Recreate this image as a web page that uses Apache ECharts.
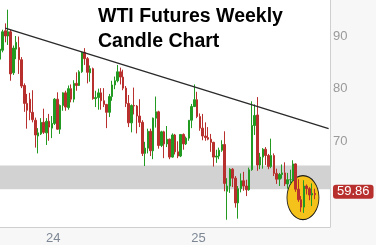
<!DOCTYPE html>
<html><head><meta charset="utf-8">
<script src="https://cdn.jsdelivr.net/npm/echarts@6/dist/echarts.min.js"></script>
<style>html,body{margin:0;padding:0;background:#f7f7f7}#c{width:376px;height:245px}</style>
</head><body><div id="c"></div>
<script>
// Weekly categories (week ending Friday)
const weeks = [
'2023-09-08','2023-09-15','2023-09-22','2023-09-29','2023-10-06','2023-10-13','2023-10-20','2023-10-27',
'2023-11-03','2023-11-10','2023-11-17','2023-11-24','2023-12-01','2023-12-08','2023-12-15','2023-12-22','2023-12-29',
'2024-01-05','2024-01-12','2024-01-19','2024-01-26','2024-02-02','2024-02-09','2024-02-16','2024-02-23',
'2024-03-01','2024-03-08','2024-03-15','2024-03-22','2024-03-29','2024-04-05','2024-04-12','2024-04-19','2024-04-26',
'2024-05-03','2024-05-10','2024-05-17','2024-05-24','2024-05-31','2024-06-07','2024-06-14','2024-06-21','2024-06-28',
'2024-07-05','2024-07-12','2024-07-19','2024-07-26','2024-08-02','2024-08-09','2024-08-16','2024-08-23','2024-08-30',
'2024-09-06','2024-09-13','2024-09-20','2024-09-27','2024-10-04','2024-10-11','2024-10-18','2024-10-25',
'2024-11-01','2024-11-08','2024-11-15','2024-11-22','2024-11-29','2024-12-06','2024-12-13','2024-12-20','2024-12-27',
'2025-01-03','2025-01-10','2025-01-17','2025-01-24','2025-01-31','2025-02-07','2025-02-14','2025-02-21','2025-02-28',
'2025-03-07','2025-03-14','2025-03-21','2025-03-28','2025-04-04','2025-04-11','2025-04-18','2025-04-25',
'2025-05-02','2025-05-09','2025-05-16','2025-05-23','2025-05-30','2025-06-06','2025-06-13','2025-06-20','2025-06-27',
'2025-07-04','2025-07-11','2025-07-18','2025-07-25','2025-08-01','2025-08-08','2025-08-15','2025-08-22','2025-08-29',
'2025-09-05','2025-09-12','2025-09-19','2025-09-26','2025-10-03','2025-10-10','2025-10-17','2025-10-24','2025-10-31',
'2025-11-07','2025-11-14','2025-11-21','2025-11-28','2025-12-05','2025-12-12','2025-12-19','2025-12-26'
];
const opens = [
85.6,87.3,91.0,90.0,90.8,83.0,87.5,87.8,85.5,80.6,
77.2,78.0,75.5,74.0,71.0,71.4,73.6,71.6,73.8,72.5,
73.4,78.0,72.3,76.8,79.2,76.4,80.0,78.0,81.0,80.6,
83.2,86.9,85.7,83.0,83.8,78.1,78.3,79.2,77.7,77.0,
75.5,78.5,80.7,81.5,83.2,82.2,80.1,77.2,73.5,76.8,
76.7,74.8,73.6,67.7,68.7,71.9,68.2,74.4,75.6,69.2,
71.8,69.5,70.4,67.0,71.2,68.0,67.2,71.3,69.5,70.6,
74.0,76.6,77.9,74.7,72.5,71.0,70.7,70.4,69.8,67.0,
67.2,68.3,69.4,60.5,61.5,64.7,63.0,58.3,61.0,62.5,
61.5,60.8,64.6,73.0,75.0,65.5,67.0,68.5,67.3,65.2,
67.3,63.9,62.8,63.7,64.0,61.9,62.7,62.7,65.7,60.9,
58.9,57.5,61.5,61.0,59.8,60.1
];
const closes = [
87.5,90.8,90.0,90.8,82.8,87.7,88.8,85.5,80.5,77.2,
75.9,75.5,74.1,71.2,71.6,73.6,71.7,73.8,72.7,73.4,
78.0,72.3,76.8,79.2,76.5,80.0,78.0,81.0,80.6,83.2,
86.9,85.7,83.1,83.8,78.1,78.3,79.2,77.7,77.0,75.5,
78.5,80.7,81.5,83.2,82.2,80.1,77.2,73.5,76.8,76.7,
74.8,73.6,67.7,68.7,71.9,68.2,74.4,75.6,69.2,71.8,
69.5,70.4,67.0,71.2,68.0,67.2,71.3,69.5,70.6,74.0,
76.6,77.9,74.7,72.5,71.0,70.7,70.4,69.8,67.0,67.2,
68.3,69.4,62.0,61.5,64.7,63.0,58.3,61.0,62.5,61.5,
60.8,64.6,73.0,74.9,65.5,67.0,68.5,67.3,65.2,67.3,
63.9,62.8,63.7,64.0,61.9,62.7,62.7,65.7,60.9,58.9,
57.5,61.5,61.0,59.8,60.1,59.86
];
const lows = [
85.0,86.9,88.8,88.3,81.5,82.6,85.6,82.8,80.1,75.6,
72.4,74.0,73.6,68.8,67.7,71.2,71.4,69.3,70.1,70.6,
73.1,72.2,71.4,75.8,75.8,76.0,77.4,77.4,79.6,80.5,
83.0,84.5,81.0,81.3,77.9,76.5,76.0,76.0,76.5,72.5,
74.6,77.7,79.9,81.2,80.8,79.7,76.5,72.7,71.7,75.1,
71.5,72.7,67.2,65.3,67.7,67.2,66.6,72.6,68.6,68.9,
66.8,68.9,66.6,66.9,67.5,66.8,67.0,68.4,69.3,70.1,
72.5,76.5,74.4,72.0,70.2,70.1,70.2,68.0,65.2,65.9,
66.6,68.0,60.5,55.1,60.2,61.3,57.4,55.3,60.3,60.6,
59.6,60.6,64.4,71.2,64.4,64.7,64.8,65.5,64.7,64.9,
63.4,61.9,61.5,62.9,61.5,61.0,61.9,62.3,60.4,58.5,
56.6,56.4,59.9,58.8,57.7,59.0
];
const highs = [
88.1,91.2,92.4,95.0,91.2,88.2,90.0,89.9,86.0,81.0,
79.0,79.2,79.7,74.5,72.5,74.4,76.2,74.4,75.2,74.8,
78.2,79.3,77.0,79.3,79.6,80.6,80.8,81.6,83.1,83.5,
87.0,87.7,86.0,84.4,84.0,79.6,80.0,80.1,80.1,77.1,
79.0,81.5,82.3,84.5,84.0,83.6,80.5,78.8,77.0,80.2,
76.9,78.0,74.0,69.9,72.4,72.4,74.5,78.5,75.8,72.0,
72.0,72.9,70.5,71.5,71.4,70.0,71.3,71.5,70.9,74.0,
77.1,80.8,79.4,75.3,75.2,73.6,72.7,71.4,69.9,68.4,
68.8,70.2,71.9,63.0,64.9,64.9,63.4,61.5,63.9,64.2,
62.7,65.0,77.6,77.0,78.4,67.8,68.7,68.9,67.6,70.5,
67.7,64.8,64.0,65.6,66.0,64.0,64.6,66.4,65.8,62.8,
59.6,62.6,61.8,61.3,62.0,61.0
];
const yTickLabels = [70, 80, 90];
const xTickLabels = {'2024-01-19': '24', '2025-01-24': '25'};
const supportBand = [60.9, 65.4];
const trendLine = [[2, 91.5], [120, 72.4]];
const highlight = [[111, 59.3]];
const lastPrice = 59.86;
const titleText = 'WTI Futures Weekly\nCandle Chart';

const UP = '#229a22', DOWN = '#b8302e';
const FONT = 'Liberation Sans, Arial, sans-serif';
const candles = opens.map((o, i) => [o, closes[i], lows[i], highs[i]]);

const chart = echarts.init(document.getElementById('c'), null, {renderer: 'canvas'});
chart.setOption({
  animation: false,
  backgroundColor: '#f7f7f7',
  title: {
    text: titleText, left: 98, top: 4, padding: 0,
    textStyle: {fontFamily: FONT, fontWeight: 'bold', fontSize: 19.5, lineHeight: 25, color: '#000'}
  },
  grid: {left: -1.6, right: 46, top: 0, bottom: 18, show: true, backgroundColor: '#ffffff', borderWidth: 0,
    containLabel: false, outerBoundsMode: 'none'},
  xAxis: {
    type: 'category', data: weeks, boundaryGap: true,
    axisLine: {lineStyle: {color: '#cfcfcf'}}, axisTick: {show: false}, splitLine: {show: false},
    axisLabel: {interval: 0, formatter: v => xTickLabels[v] || '', color: '#7d8794', fontSize: 13,
      fontFamily: FONT, margin: 5, padding: [0, 0, 0, 3]}
  },
  yAxis: {
    type: 'value', position: 'right', min: 53.72, max: 96.84, scale: true,
    splitLine: {show: false}, axisTick: {show: false},
    axisLine: {show: true, lineStyle: {color: '#cfcfcf'}},
    axisLabel: {formatter: v => yTickLabels.includes(Math.round(v * 100) / 100) ? String(v) : '',
      color: '#9a9a9a', fontSize: 13, fontFamily: FONT, margin: 3}
  },
  series: [
    {
      type: 'line', data: [], z: 1, silent: true,
      markArea: {silent: true, itemStyle: {color: '#d2d2d2'},
        data: [[{yAxis: supportBand[0]}, {yAxis: supportBand[1]}]]}
    },
    {
      type: 'scatter', data: highlight, z: 2, silent: true,
      symbol: 'circle', symbolSize: [32, 44], symbolOffset: [-1, 0],
      itemStyle: {color: '#f5c21b', borderColor: '#1a1a1a', borderWidth: 1, opacity: 1}
    },
    {
      type: 'candlestick', data: candles, z: 3, barWidth: 2, silent: true,
      itemStyle: {color: UP, color0: DOWN, borderColor: UP, borderColor0: DOWN, borderWidth: 1},
      markLine: {
        silent: true, symbol: ['none', 'none'], lineStyle: {color: 'rgba(0,0,0,0)', width: 1},
        label: {show: true, position: 'end', distance: 3, formatter: () => lastPrice.toFixed(2),
          backgroundColor: DOWN, color: '#fff', fontSize: 13, fontFamily: FONT,
          padding: [1, 4, 0, 4], borderRadius: 3, offset: [0, -3]},
        data: [{yAxis: lastPrice}]
      }
    },
    {
      type: 'line', data: trendLine, z: 4, silent: true, symbol: 'none',
      lineStyle: {color: '#2a2a2a', width: 1.4}
    }
  ]
});
</script></body></html>
